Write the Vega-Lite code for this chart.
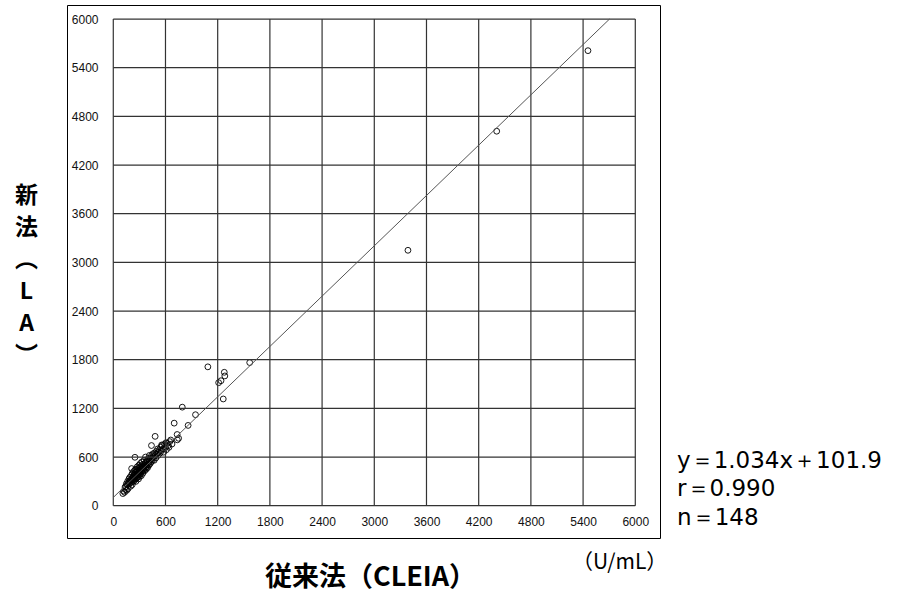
{
  "$schema": "https://vega.github.io/schema/vega-lite/v6.json",
  "width": 593,
  "height": 533,
  "autosize": {"type": "none"},
  "padding": {"left": 67, "top": 5, "right": 241, "bottom": 59},
  "background": "white",
  "config": {
    "view": {"stroke": "black", "strokeWidth": 1},
    "axis": {
      "domain": false, "ticks": false, "grid": false, "format": "d",
      "labelFont": "Liberation Sans", "labelFontSize": 12, "labelColor": "#111",
      "labelOverlap": false, "labelBound": false, "labelFlush": false,
      "titleFont": "Noto Sans CJK JP", "titleFontWeight": "bold", "titleColor": "black"
    }
  },
  "layer": [
    {
      "data": {"values": [
        {"x": 5456, "y": 5610}, {"x": 4407, "y": 4617}, {"x": 3387, "y": 3149}, {"x": 1568, "y": 1765}, {"x": 1276, "y": 1645},
        {"x": 1282, "y": 1600}, {"x": 1238, "y": 1541}, {"x": 1211, "y": 1517}, {"x": 1264, "y": 1316}, {"x": 1087, "y": 1712},
        {"x": 793, "y": 1215}, {"x": 945, "y": 1122}, {"x": 860, "y": 990}, {"x": 700, "y": 1018}, {"x": 734, "y": 878},
        {"x": 736, "y": 812}, {"x": 481, "y": 855}, {"x": 439, "y": 742}, {"x": 249, "y": 597}, {"x": 211, "y": 458},
        {"x": 751, "y": 831}, {"x": 660, "y": 810}, {"x": 606, "y": 777}, {"x": 556, "y": 749}, {"x": 675, "y": 761},
        {"x": 120, "y": 180}, {"x": 130, "y": 165}, {"x": 140, "y": 200}, {"x": 145, "y": 235}, {"x": 150, "y": 270},
        {"x": 155, "y": 190}, {"x": 160, "y": 260}, {"x": 165, "y": 300}, {"x": 170, "y": 210}, {"x": 175, "y": 280},
        {"x": 180, "y": 330}, {"x": 182, "y": 265}, {"x": 185, "y": 300}, {"x": 190, "y": 350}, {"x": 195, "y": 285},
        {"x": 198, "y": 320}, {"x": 200, "y": 240}, {"x": 205, "y": 310}, {"x": 210, "y": 380}, {"x": 212, "y": 290},
        {"x": 215, "y": 335}, {"x": 218, "y": 260}, {"x": 220, "y": 400}, {"x": 225, "y": 320}, {"x": 228, "y": 350},
        {"x": 230, "y": 300}, {"x": 232, "y": 420}, {"x": 235, "y": 370}, {"x": 238, "y": 330}, {"x": 240, "y": 390},
        {"x": 242, "y": 310}, {"x": 245, "y": 350}, {"x": 248, "y": 440}, {"x": 250, "y": 380}, {"x": 252, "y": 330},
        {"x": 255, "y": 410}, {"x": 258, "y": 360}, {"x": 260, "y": 300}, {"x": 262, "y": 450}, {"x": 265, "y": 390},
        {"x": 268, "y": 340}, {"x": 270, "y": 420}, {"x": 272, "y": 370}, {"x": 275, "y": 480}, {"x": 278, "y": 400},
        {"x": 280, "y": 350}, {"x": 282, "y": 430}, {"x": 285, "y": 390}, {"x": 288, "y": 460}, {"x": 290, "y": 330},
        {"x": 292, "y": 410}, {"x": 295, "y": 500}, {"x": 298, "y": 380}, {"x": 300, "y": 440}, {"x": 302, "y": 360},
        {"x": 305, "y": 470}, {"x": 308, "y": 410}, {"x": 310, "y": 520}, {"x": 312, "y": 390}, {"x": 315, "y": 450},
        {"x": 318, "y": 430}, {"x": 320, "y": 490}, {"x": 322, "y": 370}, {"x": 325, "y": 460}, {"x": 328, "y": 540},
        {"x": 330, "y": 420}, {"x": 335, "y": 480}, {"x": 338, "y": 450}, {"x": 340, "y": 400}, {"x": 345, "y": 510},
        {"x": 348, "y": 470}, {"x": 350, "y": 440}, {"x": 355, "y": 560}, {"x": 358, "y": 490}, {"x": 360, "y": 430},
        {"x": 365, "y": 520}, {"x": 368, "y": 470}, {"x": 370, "y": 600}, {"x": 375, "y": 500}, {"x": 378, "y": 450},
        {"x": 380, "y": 540}, {"x": 385, "y": 480}, {"x": 390, "y": 560}, {"x": 392, "y": 510}, {"x": 395, "y": 470},
        {"x": 400, "y": 580}, {"x": 405, "y": 530}, {"x": 410, "y": 500}, {"x": 415, "y": 620}, {"x": 420, "y": 560},
        {"x": 425, "y": 520}, {"x": 430, "y": 590}, {"x": 435, "y": 540}, {"x": 440, "y": 620}, {"x": 445, "y": 580},
        {"x": 450, "y": 560}, {"x": 455, "y": 640}, {"x": 460, "y": 600}, {"x": 470, "y": 560}, {"x": 475, "y": 650},
        {"x": 480, "y": 620}, {"x": 490, "y": 590}, {"x": 495, "y": 670}, {"x": 500, "y": 640}, {"x": 510, "y": 700},
        {"x": 515, "y": 620}, {"x": 520, "y": 660}, {"x": 530, "y": 690}, {"x": 540, "y": 650}, {"x": 545, "y": 720},
        {"x": 550, "y": 680}, {"x": 560, "y": 740}, {"x": 570, "y": 700}, {"x": 580, "y": 660}, {"x": 590, "y": 760},
        {"x": 600, "y": 720}, {"x": 610, "y": 690}, {"x": 620, "y": 770}, {"x": 630, "y": 740}, {"x": 640, "y": 720},
        {"x": 650, "y": 790}, {"x": 110, "y": 150}, {"x": 135, "y": 230}
      ]},
      "mark": {"type": "point", "filled": false, "stroke": "black", "strokeWidth": 0.9, "size": 34, "opacity": 1, "zindex": 3},
      "encoding": {
        "x": {
          "field": "x", "type": "quantitative",
          "scale": {"domain": [-532, 6284], "nice": false, "zero": false},
          "axis": {
            "values": [0, 600, 1200, 1800, 2400, 3000, 3600, 4200, 4800, 5400, 6000],
            "labelPadding": -17, "labelBaseline": "middle", "labelAlign": "center",
            "title": "従来法（CLEIA）", "titleFontSize": 27, "titleX": 303, "titleY": 39, "titleBaseline": "middle", "titleAlign": "center"
          }
        },
        "y": {
          "field": "y", "type": "quantitative",
          "scale": {"domain": [-398, 6173], "nice": false, "zero": false},
          "axis": {
            "values": [0, 600, 1200, 1800, 2400, 3000, 3600, 4200, 4800, 5400, 6000],
            "labelPadding": -31, "labelBaseline": "middle", "labelAlign": "right",
            "title": ["新", "法", "︵", "L", "A", "︶"], "titleFontSize": 23, "titleAngle": 0, "titleX": -41, "titleY": 190,
            "titleBaseline": "middle", "titleAlign": "center", "titleLineHeight": 32
          }
        }
      }
    },
    {
      "data": {"values": [{"g": 0}, {"g": 600}, {"g": 1200}, {"g": 1800}, {"g": 2400}, {"g": 3000}, {"g": 3600}, {"g": 4200}, {"g": 4800}, {"g": 5400}, {"g": 6000}]},
      "mark": {"type": "rule", "color": "#333", "strokeWidth": 1.2},
      "encoding": {
        "x": {"field": "g", "type": "quantitative"},
        "y": {"datum": 0},
        "y2": {"datum": 6000}
      }
    },
    {
      "data": {"values": [{"g": 0}, {"g": 600}, {"g": 1200}, {"g": 1800}, {"g": 2400}, {"g": 3000}, {"g": 3600}, {"g": 4200}, {"g": 4800}, {"g": 5400}, {"g": 6000}]},
      "mark": {"type": "rule", "color": "#333", "strokeWidth": 1.2},
      "encoding": {
        "y": {"field": "g", "type": "quantitative"},
        "x": {"datum": 0},
        "x2": {"datum": 6000}
      }
    },
    {
      "data": {"values": [{"x": 0, "y": 101.9}, {"x": 5704, "y": 6000}]},
      "mark": {"type": "line", "color": "#555", "strokeWidth": 1},
      "encoding": {
        "x": {"field": "x", "type": "quantitative"},
        "y": {"field": "y", "type": "quantitative"}
      }
    },
    {
      "data": {"values": [{"t": "y＝1.034x＋101.9\nr＝0.990\nn＝148"}]},
      "mark": {"type": "text", "lineBreak": "\n", "lineHeight": 28.5, "align": "left", "baseline": "middle", "font": "DejaVu Sans", "fontSize": 23, "color": "black"},
      "encoding": {
        "x": {"datum": 6480},
        "y": {"datum": 557},
        "text": {"field": "t"}
      }
    },
    {
      "data": {"values": [{"t": "（U/mL）"}]},
      "mark": {"type": "text", "align": "center", "baseline": "middle", "font": "Noto Sans CJK JP", "fontSize": 21, "color": "black"},
      "encoding": {
        "x": {"datum": 5820},
        "y": {"datum": -706},
        "text": {"field": "t"}
      }
    }
  ]
}
